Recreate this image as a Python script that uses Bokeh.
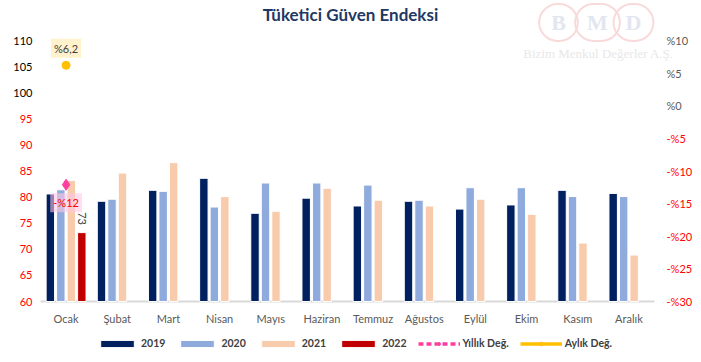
import math
from bokeh.plotting import figure
from bokeh.models import (ColumnDataSource, Range1d, Label, Legend, LegendItem)
from bokeh.transform import dodge
from bokeh.embed import file_html
from bokeh.resources import INLINE

months = ["Ocak", "Şubat", "Mart", "Nisan", "Mayıs", "Haziran", "Temmuz",
          "Ağustos", "Eylül", "Ekim", "Kasım", "Aralık"]
y2019 = [80.6, 79.2, 81.3, 83.6, 76.9, 79.8, 78.3, 79.2, 77.7, 78.5, 81.3, 80.7]
y2020 = [81.4, 79.6, 81.1, 78.1, 82.7, 82.7, 82.3, 79.4, 81.8, 81.8, 80.1, 80.1]
y2021 = [83.2, 84.6, 86.6, 80.1, 77.3, 81.7, 79.4, 78.3, 79.6, 76.7, 71.2, 68.9]
y2022 = [73.2]
yoy = [-12.1]        # Yıllık Değ. (%)
mom = [6.2]          # Aylık Değ. (%)
left_ticks = [60, 65, 70, 75, 80, 85, 90, 95, 100, 105, 110]
right_ticks = [10, 5, 0, -5, -10, -15, -20, -25, -30]

FONT = "Lato"
C19, C20, C21, C22 = "#002060", "#8faadc", "#f8cbad", "#c00000"
PINK, YEL = "#ff3fa0", "#ffc000"

Y0, Y1 = 60, 110          # left scale
P0, P1 = -30, 10          # right scale
PLOT_W, PLOT_H = 614, 261  # pixel extent of the value scales
PAD_L, PAD_R, PAD_T, PAD_B = 40, 40, 40, 61
n = len(months)
cat_px = PLOT_W / n
ypx = (Y1 - Y0) / PLOT_H
ppx = (P1 - P0) / PLOT_H

idx = list(range(n))
src = ColumnDataSource(dict(idx=idx, y19=y2019, y20=y2020, y21=y2021))
src22 = ColumnDataSource(dict(idx=idx[:len(y2022)], y22=y2022))
srcl = ColumnDataSource(dict(idx=idx[:len(yoy)], yoy=yoy, mom=mom))

p = figure(frame_width=PLOT_W + PAD_L + PAD_R, frame_height=PLOT_H + PAD_T + PAD_B,
           output_backend="svg", toolbar_location=None,
           x_axis_location=None, y_axis_location=None,
           x_range=Range1d(-0.5 - PAD_L / cat_px, n - 0.5 + PAD_R / cat_px),
           y_range=Range1d(Y0 - PAD_B * ypx, Y1 + PAD_T * ypx),
           min_border_left=0, min_border_right=0, min_border_top=0,
           min_border_bottom=0)
p.extra_y_ranges = {"pct": Range1d(P0 - PAD_B * ppx, P1 + PAD_T * ppx)}
p.outline_line_color = None
p.xgrid.visible = False
p.ygrid.visible = False

# watermark (behind everything)
for ch, dx in zip("BMD", [-96, -57, -21]):
    p.add_layout(Label(x=n - 0.5, y=Y1, x_offset=dx, y_offset=18, text=ch,
                       text_align="center", text_baseline="middle",
                       text_font="Liberation Serif", text_font_size="22px",
                       text_font_style="bold", text_color="#e2e6f0",
                       border_line_color="#f9dada", border_line_width=2,
                       border_radius=20, padding=(12, 6), level="underlay"))
p.add_layout(Label(x=n - 0.5, y=Y1, x_offset=-56, y_offset=-13,
                   text="Bizim Menkul Değerler A.Ş.", text_align="center",
                   text_baseline="middle", text_font="Liberation Serif",
                   text_font_size="13px", text_color="#e8e8e8", level="underlay"))

# baseline (category axis line)
p.segment(x0=[-0.5], x1=[n - 0.5], y0=[Y0], y1=[Y0], line_color="#d9d9d9", line_width=2)

W = 0.165
off = [-0.3075, -0.1025, 0.1025, 0.3075]
r19 = p.vbar(x=dodge("idx", off[0], range=p.x_range), top="y19", bottom=Y0, width=W,
             source=src, fill_color=C19, line_color="white", line_width=1)
r20 = p.vbar(x=dodge("idx", off[1], range=p.x_range), top="y20", bottom=Y0, width=W,
             source=src, fill_color=C20, line_color="white", line_width=1)
r21 = p.vbar(x=dodge("idx", off[2], range=p.x_range), top="y21", bottom=Y0, width=W,
             source=src, fill_color=C21, line_color="white", line_width=1)
r22 = p.vbar(x=dodge("idx", off[3], range=p.x_range), top="y22", bottom=Y0, width=W,
             source=src22, fill_color=C22, line_color="white", line_width=1)

ly = p.line("idx", "yoy", source=srcl, y_range_name="pct", line_color=PINK,
            line_width=3.5, line_dash="5 3")
sy = p.scatter("idx", "yoy", source=srcl, y_range_name="pct", marker="diamond",
               size=11, fill_color=PINK, line_color=PINK)
lm = p.line("idx", "mom", source=srcl, y_range_name="pct", line_color=YEL,
            line_width=3.5)
sm = p.scatter("idx", "mom", source=srcl, y_range_name="pct", marker="circle",
               size=8, fill_color=YEL, line_color=YEL)

# category labels
for i, m in enumerate(months):
    p.add_layout(Label(x=i, y=Y0, y_offset=-17, text=m, text_align="center",
                       text_baseline="middle", text_font=FONT, text_font_size="11px",
                       text_color="#595959"))

# value-axis tick labels (coloured per value, as in the original)
for t in left_ticks:
    p.add_layout(Label(x=-0.5, y=t, x_offset=-8, text=str(t), text_align="right",
                       text_baseline="middle", text_font=FONT, text_font_size="11px",
                       text_color="#000000" if t >= 100 else "#ff0000"))
for t in right_ticks:
    txt = ("%" + str(t)) if t >= 0 else ("-%" + str(-t))
    p.add_layout(Label(x=n - 0.5, y=t, y_range_name="pct", x_offset=12, text=txt,
                       text_align="left", text_baseline="middle", text_font=FONT,
                       text_font_size="11px",
                       text_color="#595959" if t >= 0 else "#ff0000"))

# data labels
p.add_layout(Label(x=idx[0], y=mom[0], y_range_name="pct", y_offset=17,
                   text="%" + f"{mom[0]:.1f}".replace(".", ","),
                   text_align="center", text_baseline="middle", text_font=FONT,
                   text_font_size="11px", text_color="#404040",
                   background_fill_color="#fff2cc", padding=3))
p.add_layout(Label(x=idx[0], y=yoy[0], y_range_name="pct", y_offset=-18,
                   text="-%" + str(round(-yoy[0])), text_align="center",
                   text_baseline="middle", text_font=FONT, text_font_size="11px",
                   text_color="#ff0000", background_fill_color="#ffc8e4",
                   background_fill_alpha=0.6, padding=3))
p.add_layout(Label(x=idx[0] + off[3], y=y2022[0], y_offset=14, text=str(round(y2022[0])),
                   angle=-math.pi / 2, text_align="center", text_baseline="middle",
                   text_font=FONT, text_font_size="11px", text_color="#404040"))

# title
p.add_layout(Label(x=(n - 1) / 2, y=Y1, y_offset=26, x_offset=3,
                   text="Tüketici Güven Endeksi",
                   text_align="center", text_baseline="middle", text_font=FONT,
                   text_font_size="17px", text_font_style="bold", text_color="#1f3864"))

legend = Legend(items=[
    LegendItem(label="2019", renderers=[r19]),
    LegendItem(label="2020", renderers=[r20]),
    LegendItem(label="2021", renderers=[r21]),
    LegendItem(label="2022", renderers=[r22]),
    LegendItem(label="Yıllık Değ.", renderers=[ly, sy]),
    LegendItem(label="Aylık Değ.", renderers=[lm, sm]),
], orientation="horizontal", location=(96, 13), border_line_color=None,
    background_fill_alpha=0, glyph_width=42, glyph_height=9,
    label_text_font=FONT, label_text_font_style="bold",
    label_text_font_size="10.5px", label_text_color="#404040",
    spacing=11, label_standoff=3, padding=0, margin=0,
    label_height=12)
p.add_layout(legend, "center")

open("out.html", "w").write(file_html(p, INLINE))
